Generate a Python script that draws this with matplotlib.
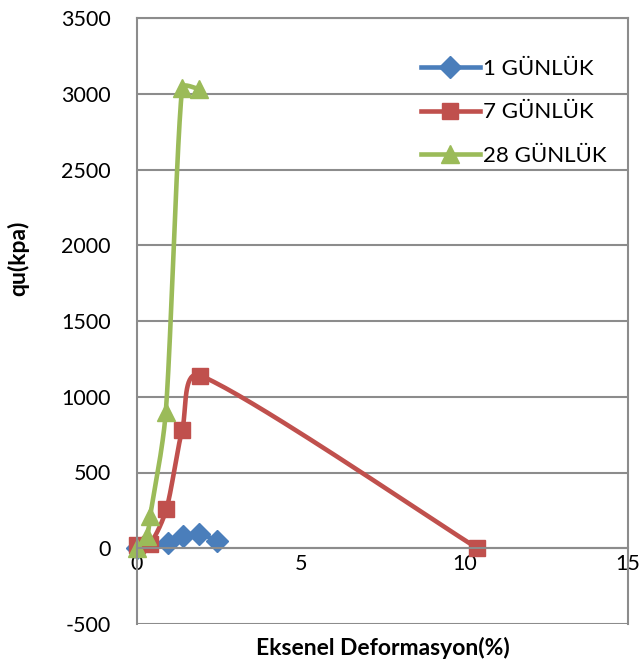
import numpy as np
import matplotlib
matplotlib.use("Agg")
import matplotlib.pyplot as plt
from matplotlib.lines import Line2D

plt.rcParams['font.family'] = ['Lato', 'DejaVu Sans']
plt.rcParams['axes.unicode_minus'] = False

# Axial strain (%) and unconfined compressive strength (kPa) per curing age
strain_1 = [0.0, 0.95, 1.4, 1.88, 2.45]
qu_1 = [0, 35, 80, 95, 50]

strain_7 = [0.0, 0.4, 0.9, 1.38, 1.93, 10.4]
qu_7 = [20, 30, 260, 780, 1140, 0]

strain_28 = [0.0, 0.3, 0.4, 0.88, 1.38, 1.9]
qu_28 = [0, 80, 210, 900, 3040, 3030]

labels = ["1 GÜNLÜK", "7 GÜNLÜK", "28 GÜNLÜK"]
colors = ["#4A7EBB", "#C0504D", "#9BBB59"]
markers = ["D", "s", "^"]
msizes = [11, 12, 13]

x_ticks = [0, 5, 10, 15]
y_ticks = list(range(-500, 3501, 500))

fig = plt.figure(figsize=(6.41, 6.66), dpi=100)
ax = fig.add_axes([137 / 641, 1 - 624 / 666, 491 / 641, 606 / 666])
ax.set_xlim(0, 15)
ax.set_ylim(-500, 3500)
ax.set_xticks(x_ticks)
ax.set_yticks(y_ticks)

grid_c = "#8C8C8C"
ax.grid(axis='y', color=grid_c, linewidth=1.5)
ax.set_axisbelow(True)
for side in ['left', 'right', 'top']:
    ax.spines[side].set_color(grid_c)
    ax.spines[side].set_linewidth(1.5)
ax.spines['bottom'].set_position(('data', 0))
ax.spines['bottom'].set_color(grid_c)
ax.spines['bottom'].set_linewidth(1.5)
ax.tick_params(length=0, labelsize=15.5, colors='black')
ax.tick_params(axis='y', pad=19)
ax.tick_params(axis='x', pad=4)


def smooth_path(xs, ys, n=40):
    """Bezier smoothing in screen space, with handles capped by segment length."""
    fig.canvas.draw()
    pts = ax.transData.transform(np.column_stack([xs, ys]))
    out = [pts[0]]
    m = len(pts)

    def cap(h, seg_len):
        L = np.hypot(*h)
        lim = seg_len / 3.0
        return h * (lim / L) if L > lim and L > 0 else h

    for i in range(m - 1):
        p0 = pts[i - 1] if i > 0 else pts[i]
        p1 = pts[i]
        p2 = pts[i + 1]
        p3 = pts[i + 2] if i + 2 < m else pts[i + 1]
        seg_len = np.hypot(*(p2 - p1))
        c1 = p1 + cap((p2 - p0) / 6.0, seg_len)
        c2 = p2 - cap((p3 - p1) / 6.0, seg_len)
        t = np.linspace(0, 1, n)[1:, None]
        seg = ((1 - t) ** 3) * p1 + 3 * ((1 - t) ** 2) * t * c1 \
            + 3 * (1 - t) * t ** 2 * c2 + t ** 3 * p2
        out.extend(seg)
    out = np.array(out)
    return ax.transData.inverted().transform(out)


series = [(strain_1, qu_1), (strain_7, qu_7), (strain_28, qu_28)]
for (xs, ys), c, mk, ms in zip(series, colors, markers, msizes):
    curve = smooth_path(xs, ys)
    ax.plot(curve[:, 0], curve[:, 1], color=c, linewidth=3.3,
            solid_capstyle='round', solid_joinstyle='round', clip_on=False)
    ax.plot(xs, ys, linestyle='none', marker=mk, markersize=ms,
            color=c, markeredgecolor=c, clip_on=False)

handles = [Line2D([0], [0], color=c, linewidth=3.3, marker=mk, markersize=ms,
                  markeredgecolor=c)
           for c, mk, ms in zip(colors, markers, msizes)]
ax.legend(handles, labels, loc='upper left', bbox_to_anchor=(0.578, 0.933),
          frameon=False, fontsize=16, handlelength=2.65, handletextpad=0.15,
          labelspacing=1.07, borderpad=0, borderaxespad=0)

ax.set_xlabel("Eksenel Deformasyon(%)", fontsize=16.5, fontweight='bold')
ax.xaxis.set_label_coords(0.5, -0.022)
ax.set_ylabel("qu(kpa)", fontsize=16.5, fontweight='bold')
ax.yaxis.set_label_coords(-0.219, 0.604)

fig.savefig("out.png", dpi=100)
